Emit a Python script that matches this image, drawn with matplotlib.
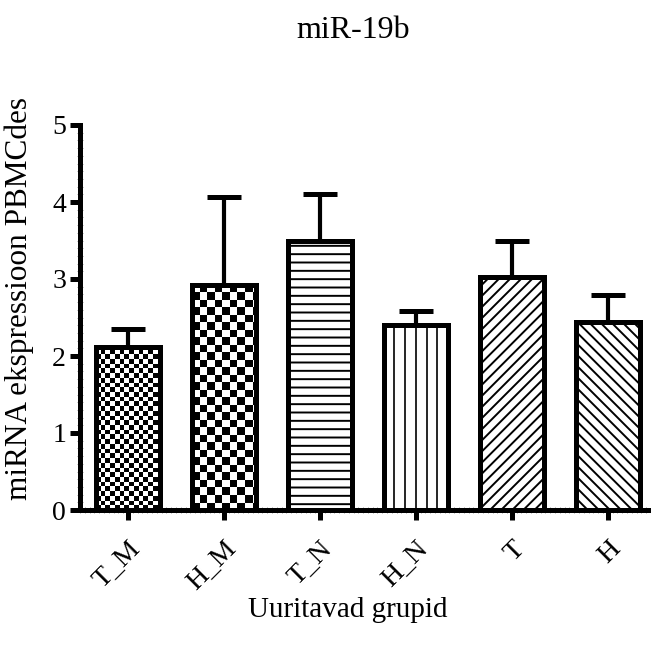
import matplotlib
matplotlib.use("Agg")
import matplotlib.pyplot as plt
import numpy as np

plt.rcParams['font.family'] = ['Liberation Serif', 'DejaVu Serif']
plt.rcParams['hatch.linewidth'] = 1.4

# andmed
groups = ['T_M', 'H_M', 'T_N', 'H_N', 'T', 'H']
means = [2.12, 2.92, 3.49, 2.40, 3.03, 2.44]
upper = [2.35, 4.07, 4.10, 2.58, 3.49, 2.79]
errors = [u - m for u, m in zip(upper, means)]
patterns = ['checker_small', 'checker_big', '--', '', '///', '\\\\\\']

W, H = 651, 653
fig = plt.figure(figsize=(W / 100, H / 100), dpi=100)
ax = fig.add_axes([80 / W, 143 / H, 1 - 80 / W, 385 / H])
xlim = (-0.5, 5.45)
ylim = (0, 5)

x = np.arange(len(groups))
bar_w = 0.67
px_x = 571 / (xlim[1] - xlim[0])
px_y = 385 / (ylim[1] - ylim[0])

ax.errorbar(x, means, yerr=[np.zeros(len(x)), errors], fmt='none',
            ecolor='black', elinewidth=3, capsize=12, capthick=3.6, zorder=2)

for i, (xi, m, p) in enumerate(zip(x, means, patterns)):
    if p.startswith('checker'):
        bar = ax.bar(xi, m, width=bar_w, facecolor='none', edgecolor='black',
                     linewidth=3.6, zorder=4)[0]
        cell = 4.7 if p == 'checker_small' else 7.5
        nx = int(np.ceil(bar_w * px_x / cell)) + 1
        ny = int(np.ceil(m * px_y / cell)) + 1
        arr = np.indices((ny, nx)).sum(axis=0) % 2
        x0 = xi - bar_w / 2
        im = ax.imshow(arr, cmap='gray', interpolation='nearest', aspect='auto',
                       origin='lower',
                       extent=(x0, x0 + nx * cell / px_x, 0, ny * cell / px_y),
                       zorder=3)
        im.set_clip_path(bar)
    elif p == '':
        bar = ax.bar(xi, m, width=bar_w, facecolor='white', edgecolor='black',
                     linewidth=3.6, zorder=4)[0]
        # hõredad püstjooned
        for k in (-2, -1, 0, 1, 2):
            ln = ax.plot([xi + k * 10.7 / px_x] * 2, [0, m], color='black',
                         linewidth=1.2, zorder=4.5)[0]
            ln.set_clip_path(bar)
    else:
        ax.bar(xi, m, width=bar_w, facecolor='white', edgecolor='black',
               linewidth=3.6, hatch=p, zorder=4)

ax.set_xlim(*xlim)
ax.set_ylim(*ylim)

for s in ['top', 'right']:
    ax.spines[s].set_visible(False)
for s in ['left', 'bottom']:
    ax.spines[s].set_linewidth(3.6)

ax.set_yticks([0, 1, 2, 3, 4, 5])
ax.set_yticks(np.arange(0, 5.01, 0.1), minor=True)
ax.set_xticks(x)
ax.set_xticks(np.arange(-0.5, 5.45, 0.05), minor=True)
ax.set_xticklabels(groups, rotation=45, ha='right', va='top',
                   rotation_mode='anchor')
ax.tick_params(axis='both', which='major', width=3.6, length=7,
               labelsize=20, pad=3)
ax.tick_params(axis='x', which='major', pad=12)
ax.tick_params(axis='both', which='minor', width=0.6, length=4,
               direction='inout', color='0.55')

fig.text(353 / W, 1 - 31 / H, 'miR-19b', ha='center', va='center', fontsize=23)
fig.text(348 / W, 1 - 610 / H, 'Uuritavad grupid', ha='center', va='center',
         fontsize=21)
fig.text(19 / W, 1 - 299 / H, 'miRNA ekspressioon PBMCdes', ha='center',
         va='center', rotation=90, fontsize=22.5)

fig.savefig('out.png', dpi=100, facecolor='white')
